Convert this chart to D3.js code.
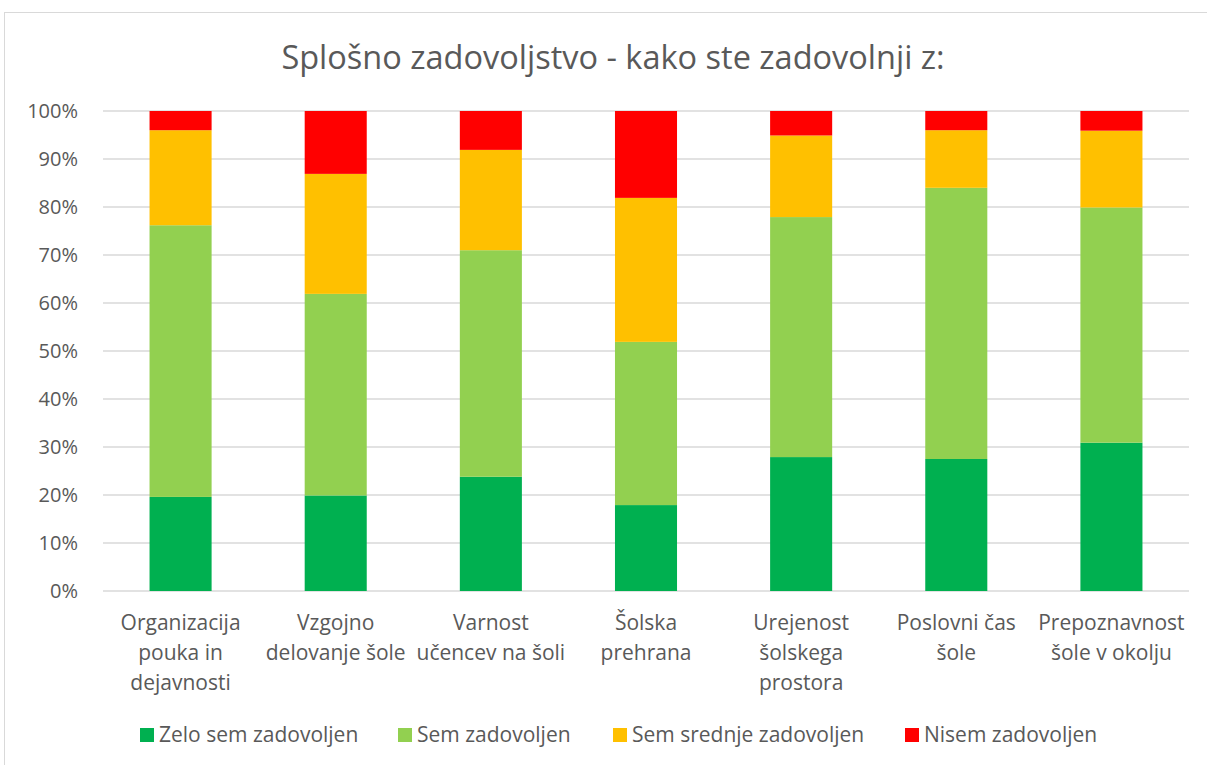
<!DOCTYPE html>
<html>
<head>
<meta charset="utf-8">
<script src="https://cdn.jsdelivr.net/npm/d3@7"></script>
<style>
  body { margin: 0; background: #fff; }
  svg { display: block; font-family: "Open Sans", Lato, sans-serif; }
</style>
</head>
<body>
<svg id="chart" width="1207" height="765"></svg>
<script>
// data
const categories = [
  ["Organizacija", "pouka in", "dejavnosti"],
  ["Vzgojno", "delovanje šole"],
  ["Varnost", "učencev na šoli"],
  ["Šolska", "prehrana"],
  ["Urejenost", "šolskega", "prostora"],
  ["Poslovni čas", "šole"],
  ["Prepoznavnost", "šole v okolju"]
];
const seriesNames = ["Zelo sem zadovoljen", "Sem zadovoljen", "Sem srednje zadovoljen", "Nisem zadovoljen"];
const zelo    = [19.6, 19.9, 23.8, 17.9, 27.9, 27.5, 30.9];
const sem     = [56.6, 42.0, 47.2, 34.0, 50.0, 56.5, 49.0];
const srednje = [19.8, 25.0, 20.9, 30.0, 17.0, 12.0, 16.0];
const nisem   = [4.0, 13.1, 8.1, 18.1, 5.1, 4.0, 4.1];
const colors  = ["#00B050", "#92D050", "#FFC000", "#FF0000"];
const yTicks  = [0, 10, 20, 30, 40, 50, 60, 70, 80, 90, 100];

const svg = d3.select("#chart");
const textColor = "#595959";

// chart frame
svg.append("rect")
  .attr("x", 4.5).attr("y", 12.5)
  .attr("width", 1215).attr("height", 765)
  .attr("fill", "#fff").attr("stroke", "#d9d9d9");

svg.append("text")
  .attr("x", 613).attr("y", 69)
  .attr("text-anchor", "middle")
  .attr("font-size", 32.5)
  .attr("fill", textColor)
  .text("Splošno zadovoljstvo - kako ste zadovolnji z:");

const plotLeft = 103, plotRight = 1189, plotTop = 111, plotBottom = 591;

const x = d3.scaleBand()
  .domain(d3.range(categories.length))
  .range([plotLeft, plotRight])
  .paddingInner(0.6).paddingOuter(0.3);

const y = d3.scaleLinear().domain([0, 100]).range([plotBottom, plotTop]);

// gridlines
svg.append("g")
  .selectAll("line")
  .data(yTicks)
  .join("line")
  .attr("x1", plotLeft).attr("x2", plotRight)
  .attr("y1", d => y(d)).attr("y2", d => y(d))
  .attr("stroke", "#d9d9d9").attr("stroke-width", 1.3);

// y axis labels
const yAxis = svg.append("g")
  .attr("transform", `translate(${plotLeft - 25},0)`)
  .call(d3.axisLeft(y).tickValues(yTicks).tickFormat(d => d + "%").tickSize(0).tickPadding(0));
yAxis.select(".domain").remove();
yAxis.selectAll("text")
  .attr("font-family", "'Open Sans', Lato, sans-serif")
  .attr("font-size", 20)
  .attr("fill", textColor);

// stacked bars
const rows = categories.map((c, i) => ({ i, zelo: zelo[i], sem: sem[i], srednje: srednje[i], nisem: nisem[i] }));
const stack = d3.stack().keys(["zelo", "sem", "srednje", "nisem"]);
const layers = stack(rows);

svg.append("g")
  .selectAll("g")
  .data(layers)
  .join("g")
  .attr("fill", (d, k) => colors[k])
  .selectAll("rect")
  .data(d => d)
  .join("rect")
  .attr("x", d => x(d.data.i))
  .attr("width", x.bandwidth())
  .attr("y", d => y(d[1]))
  .attr("height", d => y(d[0]) - y(d[1]));

// category labels
const catG = svg.append("g");
categories.forEach((lines, i) => {
  const t = catG.append("text")
    .attr("text-anchor", "middle")
    .attr("font-size", 21)
    .attr("fill", textColor);
  lines.forEach((ln, j) => {
    t.append("tspan")
      .attr("x", x(i) + x.bandwidth() / 2)
      .attr("y", 630 + j * 30)
      .text(ln);
  });
});

// legend
const legendX = [140, 398, 613, 905];
const lg = svg.append("g");
seriesNames.forEach((name, k) => {
  lg.append("rect")
    .attr("x", legendX[k]).attr("y", 728)
    .attr("width", 14).attr("height", 14)
    .attr("fill", colors[k]);
  lg.append("text")
    .attr("x", legendX[k] + 19).attr("y", 742)
    .attr("font-size", 21)
    .attr("fill", textColor)
    .text(name);
});
</script>
</body>
</html>
